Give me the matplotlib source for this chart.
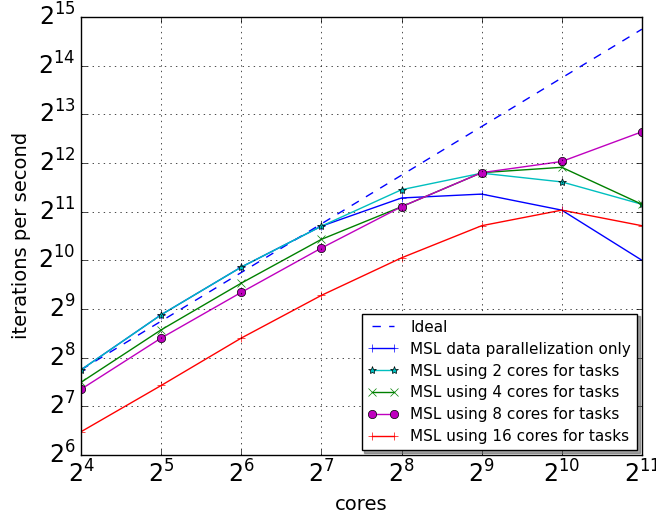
import matplotlib
matplotlib.use("Agg")
import matplotlib.pyplot as plt
from matplotlib.ticker import LogLocator, LogFormatterMathtext

plt.style.use('classic')

cores = [16, 32, 64, 128, 256, 512, 1024, 2048]

# iterations per second
ideal = [215, 430, 860, 1720, 3440, 6880, 13760, 27520]
data_only = [215, 471, 929, 1664, 2487, 2628, 2091, 1024]
tasks_2 = [215, 471, 929, 1664, 2797, 3541, 3126, 2273]
tasks_4 = [180, 380, 739, 1379, 2195, 3566, 3848, 2273]
tasks_8 = [163, 338, 648, 1218, 2195, 3566, 4182, 6382]
tasks_16 = [89, 172, 338, 621, 1060, 1675, 2091, 1675]

fig = plt.figure(figsize=(6.56, 5.14), dpi=100, facecolor='white')
ax = fig.add_axes([0.1235, 0.115, 0.855, 0.852])

ax.plot(cores, ideal, 'b--', label='Ideal')
ax.plot(cores, data_only, 'b-+', label='MSL data parallelization only')
ax.plot(cores, tasks_2, 'c-*', label='MSL using 2 cores for tasks')
ax.plot(cores, tasks_4, 'g-x', label='MSL using 4 cores for tasks')
ax.plot(cores, tasks_8, 'm-o', label='MSL using 8 cores for tasks')
ax.plot(cores, tasks_16, 'r-+', label='MSL using 16 cores for tasks')

ax.set_xscale('log', base=2)
ax.set_yscale('log', base=2)
ax.set_xlim(16, 2048)
ax.set_ylim(64, 32768)
for axis in (ax.xaxis, ax.yaxis):
    axis.set_major_locator(LogLocator(base=2))
    axis.set_major_formatter(LogFormatterMathtext(base=2))
    axis.set_minor_locator(plt.NullLocator())
ax.tick_params(labelsize=17)
ax.grid(True)

ax.set_xlabel('cores', fontsize=14)
ax.set_ylabel('iterations per second', fontsize=14)

ax.legend(loc='lower right', fontsize=11, shadow=True, fancybox=False,
          borderaxespad=0.3, labelspacing=0.45)

fig.savefig('out.png', dpi=100, facecolor='white')
